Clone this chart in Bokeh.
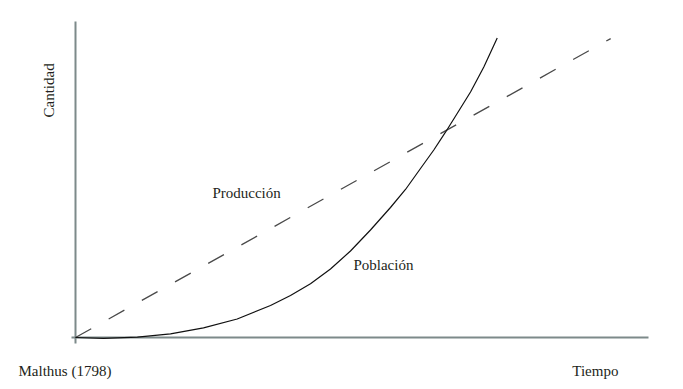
import math
from bokeh.plotting import figure
from bokeh.models import Label, Range1d
from bokeh.embed import file_html
from bokeh.resources import INLINE

# Data (arbitrary units: tiempo 0-100, cantidad 0-100)
produccion_t = [0, 93.4]
produccion_q = [0, 94.6]

poblacion_t = [0, 4.89, 10.80, 16.58, 22.34, 28.22, 34.03, 37.52, 41.01, 44.50, 47.99,
               51.48, 54.97, 57.59, 60.21, 62.53, 64.57, 66.61, 68.94, 71.26, 73.60]
poblacion_q = [0, -0.25, 0.13, 1.17, 3.07, 5.85, 10.13, 13.29, 16.99, 21.68, 27.37,
               34.02, 41.14, 46.84, 53.48, 59.34, 64.97, 70.89, 77.69, 85.60, 94.78]

# Axis extents (data units)
axis_t_max = 100
axis_q_max = 100

FONT = "Liberation Serif"
TXT = "#231f20"
AX = "#7d8a8a"

PX_X = 5.73   # pixels per time unit
PX_Y = 3.16   # pixels per quantity unit
W, H = 675, 383
ORIG_X, ORIG_Y = 75, 337   # pixel position of the origin on the canvas

p = figure(width=W, height=H, output_backend="svg", toolbar_location=None,
           x_axis_location=None, y_axis_location=None,
           x_range=Range1d(-ORIG_X / PX_X, (W - ORIG_X) / PX_X),
           y_range=Range1d(-(H - ORIG_Y) / PX_Y, ORIG_Y / PX_Y),
           min_border=0)
p.outline_line_color = None
p.grid.visible = False
p.background_fill_color = "white"
p.border_fill_color = "white"

# axis lines
p.segment(x0=[0, -4 / PX_X], y0=[-6 / PX_Y, 0], x1=[0, axis_t_max], y1=[axis_q_max, 0],
          line_color=AX, line_width=2)

p.line(produccion_t, produccion_q, line_color="#4a4a4a", line_width=1.3, line_dash="18 20")
p.line(poblacion_t, poblacion_q, line_color="#111111", line_width=1.2, line_join="round")

def lab(text, x, y, align="left", baseline="alphabetic", angle=0.0):
    p.add_layout(Label(x=x, y=y, text=text, text_font=FONT, text_font_size="15px",
                       text_color=TXT, text_align=align, text_baseline=baseline,
                       angle=angle))

lab("Producción", 23.9, 45.65)
lab("Población", 48.5, 22.95)
lab("Malthus (1798)", -9.95, -10.5)
lab("Tiempo", 86.7, -10.5)
lab("Cantidad", -4.54, 78.2, align="center", angle=math.pi / 2)

open("out.html", "w").write(file_html(p, INLINE))
